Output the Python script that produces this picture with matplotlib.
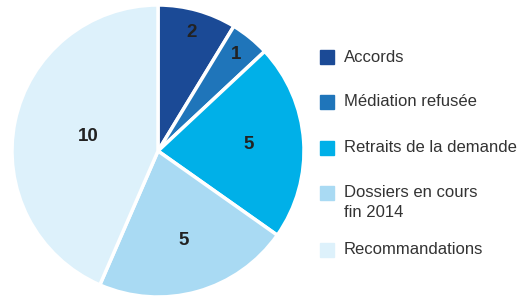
import numpy as np
import matplotlib.pyplot as plt
from matplotlib.patches import Rectangle

# Data
categories = ['Accords', 'Médiation refusée', 'Retraits de la demande',
              'Dossiers en cours\nfin 2014', 'Recommandations']
values = [2, 1, 5, 5, 10]
colors = ['#1b4a96', '#1f75ba', '#00b0e8', '#a9daf3', '#ddf1fb']

FONT = ['Liberation Sans', 'DejaVu Sans']

fig = plt.figure(figsize=(5.24, 3.01), dpi=100)
W, H = 524, 301

# pie axes: centre (158,151) px, radius 146 px
cx, cy, r = 158, 151, 146
ax = fig.add_axes([(cx - r) / W, (H - cy - r) / H, 2 * r / W, 2 * r / H])
wedges, _ = ax.pie(values, colors=colors, startangle=90, counterclock=False,
                   wedgeprops=dict(edgecolor='white', linewidth=2.5))
ax.set_xlim(-1, 1)
ax.set_ylim(-1, 1)
ax.set_aspect('equal')
ax.axis('off')

# value labels inside the wedges
label_r = [0.84, 0.85, 0.62, 0.64, 0.49]
for w, v, lr in zip(wedges, values, label_r):
    mid = np.deg2rad((w.theta1 + w.theta2) / 2)
    ax.text(lr * np.cos(mid), lr * np.sin(mid), str(v), ha='center', va='center',
            fontsize=13.5, fontweight='bold', color='#222222', family=FONT)

# legend drawn by hand
row_y = [57, 102, 148, 193, 250]
for lab, col, y in zip(categories, colors, row_y):
    fig.patches.append(Rectangle((320 / W, (H - y - 7) / H), 14 / W, 14 / H,
                                 transform=fig.transFigure, color=col))
    if '\n' in lab:
        fig.text(344 / W, (H - y + 8) / H, lab, ha='left', va='top',
                 fontsize=12, color='#333333', family=FONT, linespacing=1.4)
    else:
        fig.text(344 / W, (H - y) / H, lab, ha='left', va='center',
                 fontsize=12, color='#333333', family=FONT)

fig.savefig('out.png', dpi=100)
